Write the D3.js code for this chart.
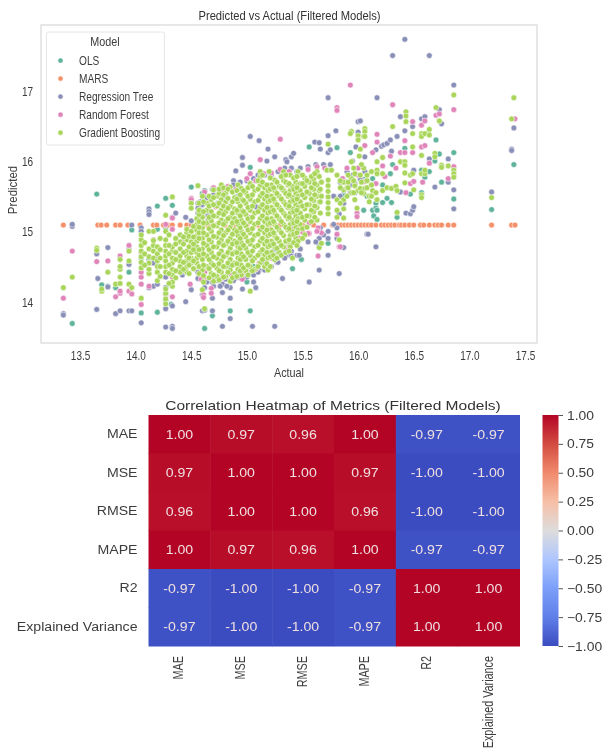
<!DOCTYPE html>
<html><head><meta charset="utf-8">
<script src="https://cdnjs.cloudflare.com/ajax/libs/d3/7.8.5/d3.min.js"></script>
<style>html,body{margin:0;padding:0;background:#fff;overflow:hidden}svg{display:block;filter:blur(.45px)}text{font-family:"Liberation Sans",Arial,sans-serif}</style>
</head><body><svg id="c" width="603" height="752"></svg>
<script>
// ---- scatter data: [actual, [predicted...]]
const models = ["OLS","MARS","Regression Tree","Random Forest","Gradient Boosting"];
const modelColors = ["#5fb39b","#f5916a","#8a8fb8","#df85ba","#a9d65a"];
const olsCols = [[13.43,[13.69]],[13.65,[15.53]],[13.695,[14.24]],[13.75,[14.22]],[13.82,[14.2]],[13.94,[14.42]],[13.965,[15.02]],[14.05,[13.84,14.62,15.0]],[14.12,[14.6]],[14.195,[13.85,15.36,15.03]],[14.27,[14.02,15.47,15.05]],[14.32,[13.96]],[14.33,[15.37]],[14.4,[14.5]],[14.5,[15.63]],[14.56,[14.9]],[14.6,[15.54]],[14.62,[13.62,15.58]],[14.69,[13.8,15.6]],[14.85,[13.87,14.5]],[15.0,[14.28]],[15.03,[13.87,14.42,15.91]],[15.06,[14.5]],[15.19,[14.81]],[15.28,[14.71]],[15.41,[14.47]],[15.49,[14.6]],[15.56,[16.2]],[15.73,[14.83]],[15.81,[16.19]],[15.87,[15.52,15.59]],[15.93,[16.12]],[16.05,[15.3]],[16.06,[15.74]],[16.08,[15.5]],[16.13,[15.75,15.3]],[16.14,[15.22]],[16.16,[15.4,15.33]],[16.17,[15.17,15.3]],[16.22,[15.41,15.66]],[16.26,[15.47]],[16.29,[15.82]],[16.3,[15.41]],[16.31,[15.95]],[16.35,[15.2]],[16.42,[16.18]],[16.47,[15.53]],[16.57,[15.55,15.87]],[16.6,[15.77]],[16.64,[15.85]],[16.69,[16.0]],[16.7,[16.3]],[16.73,[16.1]],[16.75,[15.7]],[16.86,[16.12,15.46]],[17.2,[15.31]],[17.4,[15.95]]];
const marsX = [13.35,13.66,13.69,13.74,13.82,13.86,13.93,14.04,14.16,14.19,14.25,14.29,14.33,14.4,14.46,14.5,14.61,14.65,14.72,14.8,14.9,15.0,15.1,15.2,15.3,15.4,15.5,15.6,15.69,15.77,15.79,15.82,15.85,15.88,15.91,15.94,15.97,16.0,16.03,16.06,16.09,16.12,16.16,16.21,16.24,16.27,16.3,16.33,16.37,16.39,16.42,16.46,16.5,16.56,16.59,16.64,16.69,16.72,16.75,16.81,16.86,17.2,17.38,17.41];
const marsValue = 15.09;
const treeCols = [[13.35,[13.83,13.81]],[13.43,[15.07,15.1]],[13.65,[13.89,14.68]],[13.66,[14.33]],[13.75,[14.77,14.21]],[13.82,[13.83]],[13.86,[13.87]],[13.94,[13.87,14.53,14.75]],[13.965,[13.87,15.09]],[14.05,[13.7,15.05,15.0]],[14.12,[15.32,15.28,15.24,14.2]],[14.16,[14.22,14.55]],[14.195,[14.25,14.62]],[14.27,[13.64,13.9,14.2,14.35]],[14.33,[13.65,13.62,13.94,15.2]],[14.36,[15.26]],[14.42,[14.38,14.46]],[14.45,[14.0,14.42,15.2]],[14.5,[14.17,15.15]],[14.56,[14.33,14.42,15.4,15.33,15.26,15.18]],[14.6,[13.87,14.1,15.22,15.28,15.38]],[14.62,[13.88,14.2]],[14.65,[15.3,15.22,15.15,15.45]],[14.69,[13.87,14.05,14.28]],[14.74,[14.3,15.4]],[14.78,[13.65,14.13,14.25]],[14.81,[14.32,15.5]],[14.85,[13.76,14.05,14.2]],[14.9,[15.86,14.34]],[14.92,[14.42,15.5]],[14.96,[14.18,16.05,15.94,14.4]],[15.03,[16.35,15.45]],[15.05,[13.65,14.6]],[15.06,[14.28]],[15.08,[14.2,15.35]],[15.11,[14.45,16.29]],[15.16,[14.56,15.5]],[15.18,[16.0]],[15.19,[16.17]],[15.25,[13.65,16.06,14.75]],[15.27,[14.56]],[15.32,[14.33,15.6]],[15.35,[16.02]],[15.36,[15.99,14.66]],[15.4,[16.06,14.72]],[15.42,[16.11]],[15.45,[14.66,15.85]],[15.47,[14.66]],[15.56,[14.28]],[15.61,[16.27]],[15.65,[16.26,14.45,14.9,14.8]],[15.66,[16.17,15.05]],[15.73,[16.36,16.12,16.9,14.66,14.9,15.0]],[15.75,[16.16,15.95]],[15.8,[16.43]],[15.81,[14.9,15.05]],[15.83,[14.4,15.25]],[15.87,[14.77,15.4,15.58]],[15.93,[15.66,15.55]],[15.97,[15.55,15.68]],[15.98,[16.2]],[16.0,[16.56,16.41]],[16.02,[16.57,15.74]],[16.06,[16.06,15.85]],[16.08,[14.96]],[16.09,[14.96]],[16.16,[14.78,16.16]],[16.17,[16.9]],[16.21,[16.21]],[16.23,[16.23]],[16.26,[16.25]],[16.29,[16.3]],[16.3,[16.14]],[16.31,[17.5]],[16.35,[16.35]],[16.38,[15.56,16.63]],[16.42,[17.73,16.43]],[16.43,[15.26]],[16.47,[15.25]],[16.49,[16.49,15.3]],[16.5,[15.87,15.35]],[16.57,[16.6]],[16.6,[16.63]],[16.64,[17.5,16.03]],[16.69,[15.63]],[16.73,[16.73]],[16.75,[16.53]],[16.81,[16.03,15.7]],[16.86,[17.08,15.59,15.32]],[17.2,[15.56]],[17.38,[16.17,16.15]],[17.4,[16.47]]];
const treeColsBand = [[14.58,[15.42,15.3]],[14.64,[14.28,15.48]],[14.7,[14.22,15.52]],[14.76,[14.22,15.58]],[14.82,[14.22,15.62]],[14.88,[14.3,15.72,15.66]],[14.94,[14.34,15.7]],[15.0,[14.35,15.72]],[15.06,[14.38,15.75]],[15.1,[14.42,15.8]],[15.16,[14.45,15.8]],[15.22,[14.5,15.8]],[15.28,[14.56,15.85]],[15.34,[14.62,15.9]],[15.4,[14.65,15.9]],[15.48,[14.75,15.9]],[15.55,[14.85,15.92]],[15.62,[14.85,15.95]],[15.69,[14.95,15.95]],[15.78,[15.1,15.5]],[15.84,[15.5,15.7]],[15.9,[15.7,15.85]],[15.95,[15.8,16.0]]];
const forestCols = [[13.35,[14.05]],[13.43,[14.72]],[13.65,[14.57]],[13.75,[14.58]],[13.82,[14.07]],[13.86,[14.12,14.15,14.65]],[13.94,[14.15,14.72,14.8]],[13.965,[14.11]],[14.05,[13.96,14.25,14.35,14.42,14.7]],[14.12,[14.22,14.55]],[14.16,[14.88]],[14.27,[14.1,15.1]],[14.33,[14.07,14.35,15.19,15.03]],[14.42,[14.85]],[14.49,[14.25]],[14.5,[15.47,15.45]],[14.61,[14.33,14.1]],[14.59,[14.32]],[14.68,[14.19,14.12]],[14.61,[14.06]],[14.72,[15.35,14.35]],[14.85,[14.4]],[14.96,[14.32]],[15.03,[15.82,15.2]],[15.11,[14.55]],[15.12,[16.02]],[15.2,[14.85,15.5]],[15.3,[16.31]],[15.36,[14.74,15.05]],[15.4,[14.95,15.06]],[15.45,[15.02,15.0]],[15.5,[14.99]],[15.56,[14.97,15.12]],[15.64,[14.65,15.05]],[15.67,[14.98]],[15.81,[16.76,16.72,14.96]],[15.83,[14.78]],[15.84,[14.78]],[15.93,[17.08]],[15.99,[15.26,15.21]],[16.06,[16.22,15.71]],[16.13,[16.12]],[16.16,[15.68]],[16.17,[16.38,16.27]],[16.22,[15.93]],[16.24,[15.78]],[16.29,[16.07]],[16.31,[16.8]],[16.34,[15.9]],[16.38,[16.12]],[16.42,[16.12,16.29]],[16.43,[15.55]],[16.47,[15.68]],[16.49,[16.56,16.12]],[16.5,[15.71]],[16.57,[16.2,16.51]],[16.58,[15.7]],[16.6,[16.22,16.57]],[16.64,[15.97]],[16.7,[16.65]],[16.73,[16.67]],[16.81,[15.75]],[16.86,[16.73,15.92]],[17.41,[16.6]]];
const forestColsBand = [[14.62,[14.42,15.56]],[14.7,[14.34,15.62]],[14.78,[15.6,14.34]],[14.83,[15.64]],[14.9,[15.6,14.37]],[15.0,[15.75,14.41]],[15.08,[15.72,14.46]],[15.15,[15.82]],[15.22,[15.83,14.62]],[15.3,[15.88,14.68]],[15.38,[15.85,14.8]],[15.47,[15.8,14.9]],[15.55,[15.88,14.97]],[15.63,[15.92,15.0]],[15.7,[15.9]],[15.86,[15.75]],[15.9,[15.9]],[16.0,[15.8,15.9]]];
const boostCols = [[13.35,[14.2]],[13.43,[14.35]],[13.65,[14.76,14.73]],[13.695,[14.15,14.18]],[13.75,[14.42]],[13.82,[14.25]],[13.86,[14.26,14.35,14.46,14.5,14.6]],[13.94,[14.25,14.58,14.72]],[13.965,[14.2]],[14.05,[14.05,14.48,14.56,14.64,14.72,14.8,14.88,14.95]],[14.12,[14.4,14.46,14.55,14.64,14.75,15.0]],[14.16,[14.62,14.72,14.8,14.87,15.0]],[14.195,[14.3,14.42,14.5,14.58,14.68,14.78]],[14.27,[13.97,14.04,14.12,14.18,14.42,14.5,14.58,14.65,14.72,14.8,14.88,15.0,15.23]],[14.33,[14.22,14.28,14.38,14.46,14.55,14.62,14.72,14.78,15.49]],[14.4,[14.42,14.5,14.58,14.65,14.75,14.85,14.95]],[14.46,[14.42,14.5,14.58,14.65,14.72,14.88,14.98,15.03]],[14.5,[14.55,14.62,14.7,14.85,15.0,15.4,15.33]],[14.55,[14.55,14.62,14.7,14.78,14.86,14.94,15.02,15.1,15.18]],[14.56,[15.65]],[14.6,[14.17,14.45,14.6,14.75,14.9,15.05,15.2,15.5]],[14.62,[13.9]],[14.64,[14.5,14.65,14.8,14.95,15.12,15.3,15.4]],[14.68,[14.4,14.55,14.7,14.85,15.0,15.15,15.28,15.45]],[14.7,[14.29,15.59]],[14.73,[14.36,14.48,14.62,14.78,14.92,15.08,15.22,15.36,15.5]],[14.77,[14.42,14.58,14.72,14.88,15.02,15.16,15.3,15.45,15.66]],[14.81,[14.36,14.5,14.66,14.82,14.98,15.14,15.28,15.42,15.55]],[14.85,[14.29,14.45,14.6,14.76,14.9,15.06,15.2,15.36,15.63]],[14.89,[14.4,14.55,14.7,14.86,15.02,15.18,15.32,15.48]],[14.92,[14.46,14.62,14.78,14.94,15.1,15.26,15.42,15.66]],[14.95,[14.38,14.52,14.68,14.84,15.0,15.16,15.3,15.46,15.61]],[14.99,[14.44,14.6,14.76,14.92,15.08,15.24,15.4,15.55]],[15.03,[14.15,14.5,14.66,14.82,14.98,15.14,15.3,15.46,15.68]],[15.07,[14.46,14.62,14.78,14.94,15.1,15.26,15.42,15.58]],[15.12,[14.55,14.7,14.86,15.02,15.18,15.34,15.5,15.65,15.78,15.85]],[15.16,[14.5,14.66,14.82,14.98,15.14,15.3,15.46,15.62]],[15.19,[14.45,14.62,14.78,14.94,15.1,15.26,15.42,15.58]],[15.2,[15.85]],[15.22,[14.7,14.86,15.02,15.18,15.34,15.5,15.66]],[15.25,[14.6,14.78,14.94,15.1,15.26,15.42,15.58,15.73]],[15.29,[14.7,14.86,15.02,15.18,15.34,15.5,15.64]],[15.33,[14.78,14.94,15.1,15.26,15.42,15.58,15.72,15.85]],[15.37,[14.85,15.02,15.18,15.34,15.5,15.66]],[15.39,[14.78,14.94,15.1,15.26,15.42,15.58,15.8]],[15.41,[14.62,15.0,15.16,15.32,15.48,15.64]],[15.44,[14.9,15.06,15.22,15.38,15.54,15.7]],[15.46,[14.86,15.02,15.18,15.34,15.5,15.66,15.85]],[15.48,[15.1,15.26,15.42,15.58,15.68]],[15.52,[14.95,15.16,15.32,15.48,15.64,15.76]],[15.56,[15.22,15.38,15.54,15.7]],[15.6,[15.28,15.44,15.6,15.74]],[15.63,[15.16,15.34,15.5,15.66,15.85]],[15.65,[14.77,15.42,15.58,15.78]],[15.67,[14.83,15.5,15.7]],[15.72,[15.87]],[15.73,[15.25,15.33,15.41,15.49,15.57,15.65,15.73,16.24]],[15.76,[15.87]],[15.81,[15.8,15.45,15.3,15.2]],[15.83,[14.88]],[15.87,[15.19,15.32,15.45,15.59,15.7]],[15.9,[15.5,15.62]],[15.94,[15.99,15.75,15.55,16.42]],[15.93,[16.39]],[15.97,[15.82,15.65,15.45]],[15.99,[15.33]],[16.0,[16.36,16.3,15.58]],[16.01,[16.07]],[16.02,[15.8,15.61,16.17]],[16.05,[15.54,16.35,15.9]],[16.06,[16.46,16.42,16.35,15.61]],[16.1,[15.5,15.42]],[16.13,[15.58]],[16.16,[15.55]],[16.17,[15.99,15.87,15.82,15.45]],[16.22,[16.05,15.82,15.58]],[16.26,[15.62]],[16.3,[15.61]],[16.31,[16.49]],[16.34,[15.64]],[16.35,[15.58,15.27]],[16.38,[15.99]],[16.42,[15.99,15.94,15.83,15.69]],[16.43,[16.7,16.64,16.56]],[16.47,[15.8]],[16.49,[16.39,15.82,16.2]],[16.5,[15.59]],[16.57,[16.39,16.35,16.08,15.82,15.52,15.48]],[16.6,[16.39,15.82,15.87]],[16.64,[16.45,16.37]],[16.69,[16.11,16.06]],[16.7,[16.76]],[16.73,[16.57]],[16.75,[15.94,15.91]],[16.81,[15.93]],[16.86,[16.94,15.87,15.82,15.77]],[17.2,[15.48]],[17.38,[16.6]],[17.4,[16.9]]];
const boostColsBand = [[14.08,[14.52,14.68,14.84]],[14.22,[14.36,14.5,14.62,14.74,14.9]],[14.3,[14.26,14.4,14.52,14.68,14.8,14.95]],[14.36,[14.34,14.44,14.6,14.7,14.82,14.9]],[14.43,[14.46,14.56,14.7,14.82,14.92]],[14.48,[14.4,14.52,14.62,14.78,14.93]],[14.52,[14.47,14.58,14.74,14.82,14.92,15.07]],[14.57,[14.4,14.5,14.66,14.74,14.9,14.98,15.06,15.14,15.24,15.3,15.4]],[14.61,[14.28,14.37,14.52,14.68,14.83,14.98,15.12,15.28,15.42]],[14.66,[14.34,14.47,14.6,14.74,14.88,15.04,15.2,15.36,15.5]],[14.7,[14.38,14.52,14.64,14.78,14.93,15.08,15.22,15.38,15.48]],[14.75,[14.31,14.44,14.54,14.68,14.84,14.98,15.12,15.26,15.4,15.54,15.6]],[14.79,[14.35,14.5,14.64,14.8,14.94,15.1,15.24,15.36,15.52,15.62]],[14.83,[14.42,14.55,14.7,14.86,15.02,15.18,15.33,15.47,15.6]],[14.87,[14.34,14.52,14.68,14.82,14.96,15.12,15.26,15.42,15.56]],[14.91,[14.36,14.54,14.7,14.84,15.0,15.14,15.3,15.46,15.58]],[14.94,[14.44,14.6,14.76,14.9,15.05,15.22,15.36,15.52]],[14.97,[14.48,14.64,14.8,14.96,15.12,15.28,15.44,15.58]],[15.01,[14.38,14.52,14.7,14.86,15.02,15.18,15.34,15.5,15.62]],[15.05,[14.44,14.58,14.72,14.88,15.04,15.2,15.36,15.52,15.64]],[15.1,[14.5,14.66,14.8,14.96,15.12,15.28,15.44,15.6,15.72]],[15.14,[14.6,14.74,14.9,15.06,15.22,15.38,15.54,15.7,15.8]],[15.18,[14.54,14.7,14.86,15.02,15.18,15.34,15.5,15.66]],[15.21,[14.5,14.64,14.8,14.96,15.12,15.28,15.44,15.6,15.76]],[15.24,[14.66,14.82,14.98,15.14,15.3,15.46,15.62]],[15.27,[14.62,14.76,14.9,15.06,15.22,15.38,15.54,15.7]],[15.31,[14.66,14.8,14.98,15.14,15.3,15.46,15.62,15.78]],[15.35,[14.7,14.86,15.06,15.22,15.38,15.54,15.7,15.8]],[15.38,[14.72,14.88,15.04,15.2,15.36,15.52,15.68]],[15.42,[14.84,14.96,15.12,15.28,15.44,15.6,15.76]],[15.45,[14.8,14.98,15.14,15.3,15.46,15.62,15.78]],[15.5,[14.9,15.04,15.2,15.36,15.52,15.68,15.8]],[15.54,[15.06,15.22,15.38,15.56,15.72]],[15.58,[15.14,15.3,15.46,15.62,15.78]],[15.61,[15.2,15.36,15.52,15.68,15.82]],[15.66,[15.26,15.42,15.6]],[15.84,[15.62,15.72,15.4]],[15.91,[15.7,15.62,15.8]],[15.96,[15.55,15.72,15.9]],[16.03,[15.7,15.55,15.95]],[16.08,[15.62,15.72,15.8]],[16.12,[15.5,15.66,15.85]]];
// ---- heatmap data
const metrics = ["MAE","MSE","RMSE","MAPE","R2","Explained Variance"];
const corr = [
 [1.00,0.97,0.96,1.00,-0.97,-0.97],
 [0.97,1.00,1.00,0.97,-1.00,-1.00],
 [0.96,1.00,1.00,0.96,-1.00,-1.00],
 [1.00,0.97,0.96,1.00,-0.97,-0.97],
 [-0.97,-1.00,-1.00,-0.97,1.00,1.00],
 [-0.97,-1.00,-1.00,-0.97,1.00,1.00]];
const coolwarmStops = ["#3b4cc0","#5f7fe8","#7b9ff9","#aec6fe","#dddcdc","#f6bfa6","#f08a6c","#d24b40","#b40426"];
const cbarTicks = [1,0.75,0.5,0.25,0,-0.25,-0.5,-0.75,-1];
const xTicks = [13.5,14,14.5,15,15.5,16,16.5,17,17.5];
const yTicks = [14,15,16,17];

const svg = d3.select("#c");
const ink = "#3c3c3c";
function squeeze(sel, ratio){ sel.each(function(){ const n=this.getComputedTextLength(); this.setAttribute("textLength", n*ratio); this.setAttribute("lengthAdjust","spacingAndGlyphs"); }); return sel; }

// ---- scatter
const x = d3.scaleLinear().domain([13.149,17.608]).range([41,537]);
const y = d3.scaleLinear().domain([13.413,17.934]).range([343,25]);
const flat = cols => cols.flatMap(([a,ps]) => ps.map(p => [a,p]));
const series = [flat(olsCols), marsX.map(a => [a,marsValue]), flat(treeCols.concat(treeColsBand)), flat(forestCols.concat(forestColsBand)), flat(boostCols.concat(boostColsBand))];
const upper = svg.append("g");
upper.append("rect").attr("x",41).attr("y",25).attr("width",496).attr("height",318).attr("fill","#fff").attr("stroke","#d8d8d8").attr("stroke-width",1.2);
series.forEach((pts,i) => {
  upper.append("g").selectAll("circle").data(pts).join("circle")
    .attr("cx",d=>x(d[0])).attr("cy",d=>y(d[1])).attr("r",2.9)
    .attr("fill",modelColors[i]).attr("stroke","#fff").attr("stroke-width",0.55);
});
const xa = upper.append("g").attr("transform","translate(0,343)").call(d3.axisBottom(x).tickValues(xTicks).tickFormat(d3.format(".1f")).tickSize(0).tickPadding(7));
const ya = upper.append("g").attr("transform","translate(41,0)").call(d3.axisLeft(y).tickValues(yTicks).tickFormat(d3.format("d")).tickSize(0).tickPadding(8));
[xa,ya].forEach(a=>{a.select(".domain").remove(); a.selectAll("text").attr("font-size",13.5).attr("fill",ink).style("font-family",'"Liberation Sans"'); squeeze(a.selectAll("text"),0.74);});
squeeze(upper.append("text").attr("x",289.5).attr("y",19.5).attr("text-anchor","middle").attr("font-size",13).attr("fill","#333").text("Predicted vs Actual (Filtered Models)"),0.86);
squeeze(upper.append("text").attr("x",289).attr("y",377).attr("text-anchor","middle").attr("font-size",13).attr("fill",ink).text("Actual"),0.83);
squeeze(upper.append("text").attr("transform","translate(17,190) rotate(-90)").attr("text-anchor","middle").attr("font-size",13).attr("fill",ink).text("Predicted"),0.88);
// legend
const leg = upper.append("g");
leg.append("rect").attr("x",46.5).attr("y",32).attr("width",118).attr("height",113).attr("rx",2).attr("fill","#fff").attr("stroke","#e6e6e6");
squeeze(leg.append("text").attr("x",105).attr("y",46).attr("text-anchor","middle").attr("font-size",13.5).attr("fill",ink).text("Model"),0.8);
const legY = d3.scalePoint().domain(models).range([60.5,132.7]);
models.forEach((m,i)=>{
  leg.append("circle").attr("cx",60.5).attr("cy",legY(m)).attr("r",2.6).attr("fill",modelColors[i]).attr("stroke","#fff").attr("stroke-width",.5);
  squeeze(leg.append("text").attr("x",79).attr("y",legY(m)+4.6).attr("font-size",13.5).attr("fill",ink).text(m),0.75);
});

// ---- heatmap
const hx = d3.scaleBand().domain(metrics).range([148.5,519.5]);
const hy = d3.scaleBand().domain(metrics).range([415,646]);
const cw = d3.scaleLinear().domain(d3.range(9).map(i=>-1+i*0.25)).range(coolwarmStops);
const hm = svg.append("g");
const cells = metrics.flatMap((r,i)=>metrics.map((c,j)=>({r,c,v:corr[i][j]})));
hm.selectAll("rect").data(cells).join("rect")
  .attr("x",d=>hx(d.c)).attr("y",d=>hy(d.r)).attr("width",hx.bandwidth()+.5).attr("height",hy.bandwidth()+.5).attr("fill",d=>cw(d.v));
squeeze(hm.selectAll("text.a").data(cells).join("text").attr("class","a")
  .attr("x",d=>hx(d.c)+hx.bandwidth()/2).attr("y",d=>hy(d.r)+hy.bandwidth()/2+4.4)
  .attr("text-anchor","middle").attr("font-size",12.5).attr("fill","#f0dfe0")
  .text(d=>d3.format(".2f")(d.v).replace("−","-")),1.13);
const hl = hm.append("g").attr("transform","translate(148.5,0)").call(d3.axisLeft(hy).tickSize(0).tickPadding(11));
hl.select(".domain").remove(); hl.selectAll("text").attr("font-size",12.5).attr("fill",ink).style("font-family",'"Liberation Sans"'); squeeze(hl.selectAll("text"),1.13);
const hb = hm.append("g").attr("transform","translate(0,646)").call(d3.axisBottom(hx).tickSize(0));
hb.select(".domain").remove();
hb.selectAll("text").attr("font-size",15).attr("fill",ink).style("font-family",'"Liberation Sans"')
  .attr("text-anchor","end").attr("dx",0).attr("dy",0).attr("y",0).attr("x",0).attr("transform","translate(4,10) rotate(-90)");
squeeze(hb.selectAll("text"),0.72);
squeeze(hm.append("text").attr("x",333).attr("y",409.5).attr("text-anchor","middle").attr("font-size",13.5).attr("fill","#333").text("Correlation Heatmap of Metrics (Filtered Models)"),1.15);
// colorbar
const cb = d3.scaleLinear().domain([-1,1]).range([646,415]);
const defs = svg.append("defs").append("linearGradient").attr("id","cg").attr("x1",0).attr("x2",0).attr("y1",1).attr("y2",0);
coolwarmStops.forEach((c,i)=>defs.append("stop").attr("offset",i/8).attr("stop-color",c));
hm.append("rect").attr("x",542.5).attr("y",415).attr("width",16).attr("height",231).attr("fill","url(#cg)");
const ca = hm.append("g").attr("transform","translate(558.5,0)").call(d3.axisRight(cb).tickValues(cbarTicks).tickSize(4.5).tickPadding(4).tickFormat(d=>d3.format(".2f")(d)));
ca.select(".domain").remove(); ca.selectAll("line").attr("stroke","#444").attr("stroke-width",.9);
ca.selectAll("text").attr("font-size",12.5).attr("fill",ink).style("font-family",'"Liberation Sans"'); squeeze(ca.selectAll("text"),1.11);
</script></body></html>
